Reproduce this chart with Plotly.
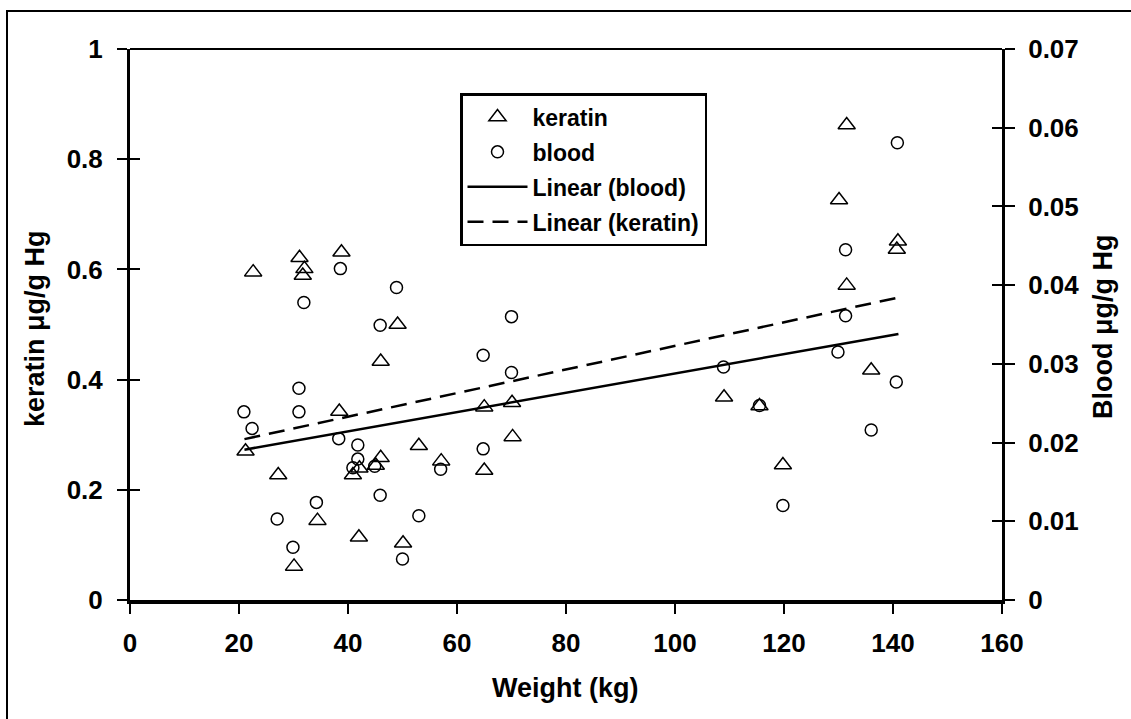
import plotly.graph_objects as go

# ---- data ----
keratin_weight = [22.6, 31.1, 32.0, 31.7, 38.8, 49.1, 46.0, 38.4, 21.2, 46.0, 42.1, 40.9,
                  45.1, 27.2, 34.4, 42.0, 30.1, 50.1, 53.0, 57.1, 65.0, 70.1, 70.2, 65.0,
                  109.0, 115.5, 119.8, 136.0, 131.5, 140.7, 140.9, 130.1, 131.5]
keratin_hg = [0.595, 0.621, 0.601, 0.589, 0.631, 0.500, 0.433, 0.342, 0.270, 0.258, 0.239, 0.227,
              0.244, 0.227, 0.144, 0.114, 0.061, 0.103, 0.280, 0.252, 0.350, 0.358, 0.296, 0.235,
              0.368, 0.352, 0.245, 0.417, 0.571, 0.636, 0.651, 0.726, 0.862]

blood_weight = [38.6, 31.9, 48.9, 45.9, 31.0, 20.9, 31.0, 22.4, 38.3, 41.8, 41.8, 40.9,
                44.9, 34.2, 45.9, 27.0, 29.9, 50.0, 53.0, 70.0, 64.8, 70.0, 57.0, 64.8,
                108.9, 115.5, 119.8, 131.3, 129.9, 140.6, 136.0, 131.3, 140.8]
blood_hg = [0.0421, 0.0378, 0.0397, 0.0349, 0.0269, 0.0239, 0.0239, 0.0218, 0.0205, 0.0197, 0.0179, 0.0168,
            0.0170, 0.0124, 0.0133, 0.0103, 0.0067, 0.0052, 0.0107, 0.0360, 0.0311, 0.0289, 0.0166, 0.0192,
            0.0296, 0.0247, 0.0120, 0.0361, 0.0315, 0.0277, 0.0216, 0.0445, 0.0581]

trend_weight = [21.0, 141.0]
blood_trend = [0.0191, 0.0338]
keratin_trend = [0.292, 0.549]

x_ticks = [0, 20, 40, 60, 80, 100, 120, 140, 160]
left_ticks = [0, 0.2, 0.4, 0.6, 0.8, 1]
left_tick_text = ["0", "0.2", "0.4", "0.6", "0.8", "1"]
right_ticks = [0, 0.01, 0.02, 0.03, 0.04, 0.05, 0.06, 0.07]
right_tick_text = ["0", "0.01", "0.02", "0.03", "0.04", "0.05", "0.06", "0.07"]

FONT = "Liberation Sans, Arial, sans-serif"
tickfont = dict(family=FONT, size=26, color="black", weight="bold")
titlefont = dict(family=FONT, size=27, color="black", weight="bold")

fig = go.Figure()
fig.add_trace(go.Scatter(x=keratin_weight, y=keratin_hg, mode="markers", name="keratin",
                         marker=dict(symbol="triangle-up-open", size=15, color="black",
                                     line=dict(width=1.5, color="black")),
                         legendgroup="a", yaxis="y"))
fig.add_trace(go.Scatter(x=blood_weight, y=blood_hg, mode="markers", name="blood",
                         marker=dict(symbol="circle-open", size=12, color="black",
                                     line=dict(width=1.5, color="black")),
                         legendgroup="b", yaxis="y2"))
fig.add_trace(go.Scatter(x=trend_weight, y=blood_trend, mode="lines", name="Linear (blood)",
                         line=dict(color="black", width=2.5), legendgroup="c", yaxis="y2"))
fig.add_trace(go.Scatter(x=trend_weight, y=keratin_trend, mode="lines", name="Linear (keratin)",
                         line=dict(color="black", width=2.5, dash="16px,9px"),
                         legendgroup="d", yaxis="y"))
# empty traces to hold inner tick axes
fig.add_trace(go.Scatter(x=[], y=[], yaxis="y3", showlegend=False))
fig.add_trace(go.Scatter(x=[], y=[], yaxis="y4", showlegend=False))

fig.update_layout(
    width=1131, height=719, autosize=False,
    margin=dict(l=130, r=129, t=49, b=119),
    paper_bgcolor="white", plot_bgcolor="white",
    showlegend=True,
    xaxis=dict(range=[0, 160], tickvals=x_ticks, ticks="outside", ticklen=10, tickwidth=2,
               tickcolor="black", showline=True, linewidth=3.5, linecolor="black",
               showgrid=False, zeroline=False, tickfont=tickfont, ticklabelstandoff=7),
    yaxis=dict(range=[0, 1], tickvals=left_ticks, ticktext=left_tick_text, ticks="outside",
               ticklen=10, tickwidth=2, tickcolor="black", showline=True, linewidth=3,
               linecolor="black", showgrid=False, zeroline=False, tickfont=tickfont,
               ticklabelstandoff=9),
    yaxis2=dict(range=[0, 0.07], tickvals=right_ticks, ticktext=right_tick_text, overlaying="y",
                side="right", ticks="outside", ticklen=10, tickwidth=2, tickcolor="black",
                showline=True, linewidth=3, linecolor="black", showgrid=False, zeroline=False,
                tickfont=tickfont, ticklabelstandoff=8),
    yaxis3=dict(range=[0, 1], tickvals=left_ticks, overlaying="y", side="left", ticks="inside",
                ticklen=10, tickwidth=2, tickcolor="black", showticklabels=False, showline=False,
                showgrid=False, zeroline=False),
    yaxis4=dict(range=[0, 0.07], tickvals=right_ticks, overlaying="y", side="right", ticks="inside",
                ticklen=10, tickwidth=2, tickcolor="black", showticklabels=False, showline=False,
                showgrid=False, zeroline=False),
    legend=dict(x=(460 - 130) / 872, y=(600 - 93) / 551, xanchor="left", yanchor="top",
                bgcolor="white", bordercolor="black", borderwidth=2.5, traceorder="grouped",
                tracegroupgap=2, itemwidth=60,
                font=dict(family=FONT, size=23, color="black", weight="bold")),
    shapes=[
        dict(type="line", xref="paper", yref="paper", x0=0, x1=1, y0=1, y1=1,
             line=dict(color="black", width=2)),
        dict(type="rect", xref="paper", yref="paper", x0=(7 - 130) / 872, x1=1.3, y0=-0.4,
             y1=(600 - 11) / 551, line=dict(color="black", width=2)),
    ],
    annotations=[
        dict(text="keratin μg/g Hg", xref="paper", yref="paper", x=(35 - 130) / 872,
             y=(600 - 329) / 551, xanchor="center", yanchor="middle", textangle=-90,
             showarrow=False, font=titlefont),
        dict(text="Blood μg/g Hg", xref="paper", yref="paper", x=(1103 - 130) / 872,
             y=(600 - 327) / 551, xanchor="center", yanchor="middle", textangle=-90,
             showarrow=False, font=titlefont),
        dict(text="Weight (kg)", xref="paper", yref="paper", x=(565 - 130) / 872,
             y=(600 - 688) / 551, xanchor="center", yanchor="middle", showarrow=False,
             font=titlefont),
    ],
)

fig.write_html("out.html", config={"displayModeBar": False},
               post_script="document.body.style.margin='0px';")
